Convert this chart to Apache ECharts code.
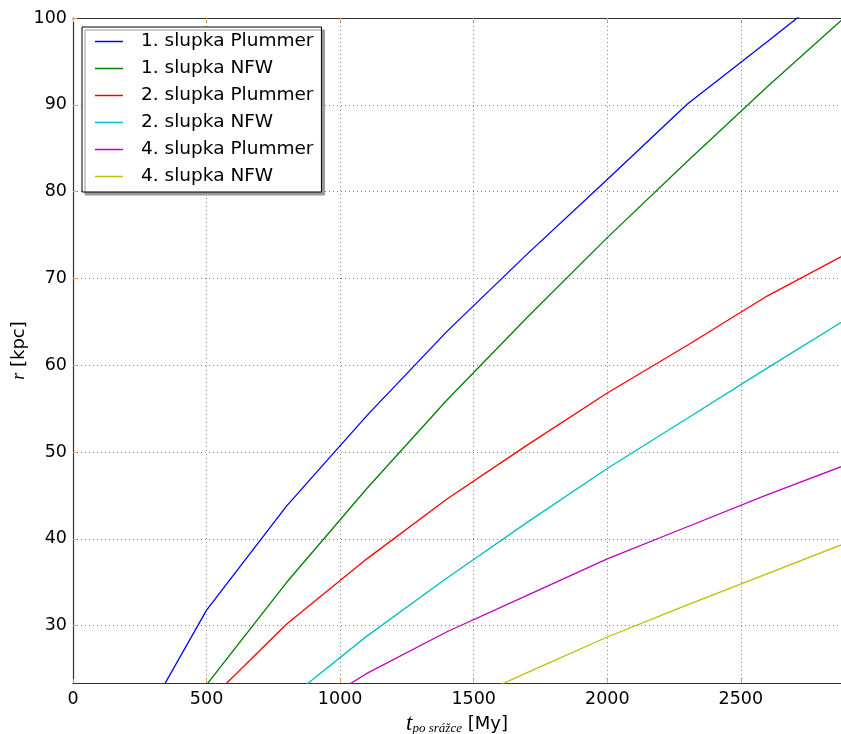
<!DOCTYPE html>
<html>
<head>
<meta charset="utf-8">
<script src="https://cdn.jsdelivr.net/npm/echarts@6/dist/echarts.min.js"></script>
<style>
  html, body { margin: 0; padding: 0; background: #fff; }
  #graf { width: 841px; height: 734px; }
</style>
</head>
<body>
<div id="graf"></div>
<script>
// r [kpc] vs. t po srážce [My]
const nazvy = ['1. slupka Plummer', '1. slupka NFW', '2. slupka Plummer',
               '2. slupka NFW', '4. slupka Plummer', '4. slupka NFW'];
const barvy = ['#0000ff', '#008000', '#ff0000', '#00bfbf', '#bf00bf', '#bfbf00'];

const slupka1Plummer = [[200, 15.5], [500, 31.8], [800, 43.8], [1100, 54.2], [1400, 63.9],
                        [1700, 72.8], [2000, 81.4], [2300, 90.1], [2600, 97.3], [2900, 104.6]];
const slupka1NFW = [[200, 11.2], [500, 23.2], [800, 35.0], [1100, 45.8], [1400, 56.0],
                    [1700, 65.5], [2000, 74.7], [2300, 83.5], [2600, 92.1], [2900, 100.4]];
const slupka2Plummer = [[200, 11.9], [500, 21.1], [800, 30.2], [1100, 37.7], [1400, 44.6],
                        [1700, 50.8], [2000, 56.8], [2300, 62.3], [2600, 68.0], [2900, 72.9]];
const slupka2NFW = [[500, 13.6], [800, 21.4], [1100, 28.8], [1400, 35.5], [1700, 41.9],
                    [2000, 48.1], [2300, 53.9], [2600, 59.7], [2900, 65.4]];
const slupka4Plummer = [[800, 18.8], [1100, 24.5], [1400, 29.3], [1700, 33.5],
                        [2000, 37.7], [2300, 41.4], [2600, 45.1], [2900, 48.6]];
const slupka4NFW = [[1400, 20.4], [1700, 24.6], [2000, 28.7], [2300, 32.4],
                    [2600, 36.0], [2900, 39.6]];

const rady = [slupka1Plummer, slupka1NFW, slupka2Plummer, slupka2NFW, slupka4Plummer, slupka4NFW];

const PISMO = 'DejaVu Sans';
const TICK = { show: true, inside: true, length: 4, lineStyle: { color: '#f0a848', width: 1 } };
const MRIZKA = { show: true, lineStyle: { color: '#808080', type: [1, 3], width: 1 } };
const OSA = { show: true, lineStyle: { color: '#333', width: 1.2 } };
const cislo = (v) => String(v);

const chart = echarts.init(document.getElementById('graf'), null, { renderer: 'canvas' });
chart.setOption({
  backgroundColor: '#fff',
  animation: false,
  grid: { left: 73, top: 18, right: 0, bottom: 51, show: false, outerBoundsMode: 'none' },
  legend: {
    orient: 'vertical', left: 82, top: 27,
    data: nazvy,
    icon: 'rect',
    itemWidth: 28, itemHeight: 1.5, itemGap: 0,
    padding: [1, 8, 2, 13],
    backgroundColor: '#fff', borderColor: '#000', borderWidth: 1,
    shadowColor: '#999', shadowOffsetX: 3, shadowOffsetY: 3, shadowBlur: 0,
    textStyle: { fontFamily: PISMO, fontSize: 18.5, color: '#000', lineHeight: 27,
                 padding: [0, 0, 0, 13] }
  },
  xAxis: [{
    type: 'value', min: 0, max: 2875, interval: 500, position: 'bottom',
    axisLine: OSA, axisTick: TICK, splitLine: MRIZKA,
    axisLabel: { fontFamily: PISMO, fontSize: 17.5, color: '#000', margin: 7,
                 showMaxLabel: false, formatter: cislo },
    name: '{t|t}{s|po srážce}{n| [My]}', nameLocation: 'middle', nameGap: 18,
    nameTextStyle: { rich: {
      t: { fontFamily: 'Liberation Serif', fontStyle: 'italic', fontSize: 23, color: '#000' },
      s: { fontFamily: 'Liberation Serif', fontStyle: 'italic', fontSize: 13, color: '#000',
           padding: [8, 0, 0, 0] },
      n: { fontFamily: PISMO, fontSize: 18, color: '#000' }
    } }
  }, {
    type: 'value', min: 0, max: 2875, interval: 500, position: 'top',
    axisLine: OSA, axisTick: TICK, splitLine: { show: false }, axisLabel: { show: false }
  }],
  yAxis: {
    type: 'value', min: 23.4, max: 100, splitNumber: 8,
    axisLine: OSA, axisTick: TICK, splitLine: MRIZKA,
    axisLabel: { fontFamily: PISMO, fontSize: 17.5, color: '#000', margin: 6,
                 showMinLabel: false, formatter: cislo },
    name: '{t|r}{n| [kpc]}', nameLocation: 'middle', nameRotate: 90, nameGap: 45,
    nameMoveOverlap: false,
    nameTextStyle: { rich: {
      t: { fontFamily: 'Liberation Serif', fontStyle: 'italic', fontSize: 18, color: '#000' },
      n: { fontFamily: PISMO, fontSize: 18, color: '#000' }
    } }
  },
  series: rady.map((data, i) => ({
    name: nazvy[i], type: 'line', data: data, symbol: 'none', clip: true,
    lineStyle: { color: barvy[i], width: 1.3 }, itemStyle: { color: barvy[i] }
  }))
});
</script>
</body>
</html>
